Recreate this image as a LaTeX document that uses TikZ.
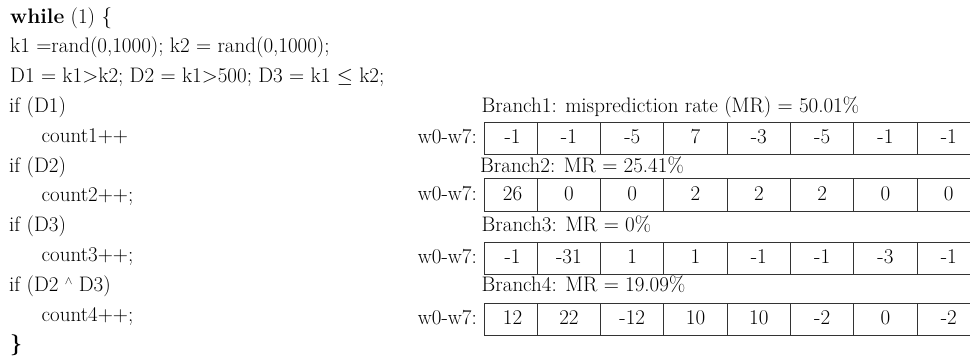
\documentclass[tikz,border=0pt]{standalone}
\begin{document}
\begin{tikzpicture}[x=1pt,y=-1pt,
  every node/.style={font=\fontsize{21}{24}\selectfont},
  code/.style={anchor=west, inner sep=0pt, text height=14pt, text depth=4pt},
  lbl/.style={anchor=west, inner sep=0pt, text height=14pt, text depth=4pt},
  wlab/.style={anchor=east, inner sep=0pt, text height=14pt, text depth=4pt},
  cell/.style={draw=black!80, line width=1pt, inner sep=0pt, minimum height=32.5pt, text height=14pt, text depth=4pt},
  num/.style={inner sep=0pt, text height=14pt, text depth=4pt}]
\useasboundingbox (0,0) rectangle (970,359);
\clip (0,0) rectangle (970,359);
% code listing
\node[code] (l0) at (10,18) {\textbf{while} (1) \{};
\node[code] (l1) at (10,47.8) {k1 =rand(0,1000); k2 = rand(0,1000);};
\node[code] (l2) at (10,77.6) {D1 = k1>k2; D2 = k1>500; D3 = k1 $\leq$ k2;};
\node[code] (l3) at (9,107.4) {if (D1)};
\node[code] (l4) at (41.5,137.2) {count1++};
\node[code] (l5) at (9,167) {if (D2)};
\node[code] (l6) at (41.5,196.8) {count2++;};
\node[code] (l7) at (9,226.6) {if (D3)};
\node[code] (l8) at (41.5,256.4) {count3++;};
\node[code] (l9) at (9,286.2) {if (D2 \raisebox{0.75ex}{\scalebox{0.55}{$\wedge$}} D3)};
\node[code] (l10) at (41.5,316) {count4++;};
\node[code] (l11) at (10,345.8) {\textbf{\}}};
% branch labels
\node[lbl] (b1) at (481.5,107.4) {Branch1: misprediction rate (MR) = 50.01\%};
\node[lbl] (b2) at (480,167) {Branch2: MR = 25.41\%};
\node[lbl] (b3) at (481.5,226.6) {Branch3: MR = 0\%};
\node[lbl] (b4) at (481.5,286.2) {Branch4: MR = 19.09\%};
% tables
\foreach \r/\y/\vals in {1/138.7/{-1,-1,-5,7,-3,-5,-1,-1},
                         2/195/{26,0,0,2,2,2,0,0},
                         3/258.3/{-1,-31,1,1,-1,-1,-3,-1},
                         4/319.5/{12,22,-12,10,10,-2,0,-2}} {
  \node[wlab] (w\r) at (477,\y) {w0-w7:};
  \node[cell, minimum width=53.3pt] (t\r c0) at (510.65,\y) {};
  \foreach \k in {1,...,7} {
    \pgfmathsetmacro{\cx}{537.3+63.3*\k-31.65}
    \node[cell, minimum width=63.3pt] (t\r c\k) at (\cx,\y) {};
  }
  \foreach \v [count=\i from 0] in \vals {
    \ifnum\i=0
      \node[num] (n\r v\i) at (512.5,\y) {\v};
    \else
      \pgfmathsetmacro{\cx}{537.3+63.3*\i-31.65}
      \node[num] (n\r v\i) at (\cx,\y) {\v};
    \fi
  }
}
\end{tikzpicture}
\end{document}
